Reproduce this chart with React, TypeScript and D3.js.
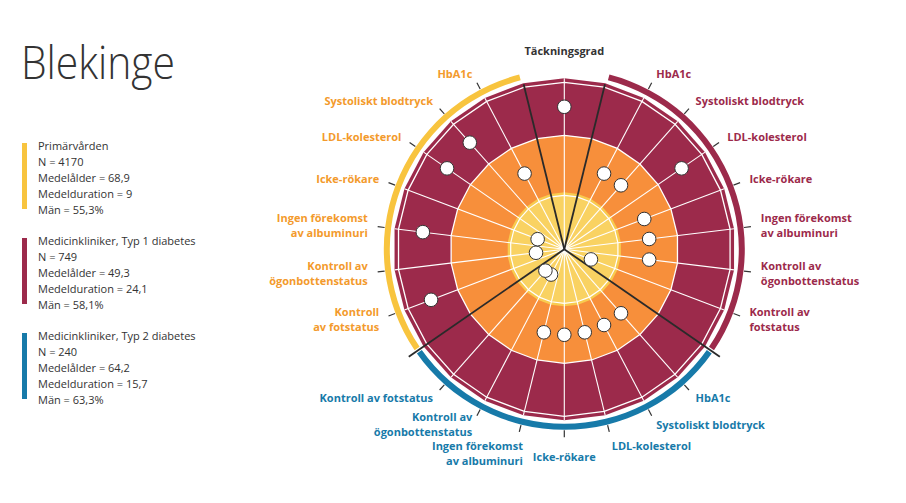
import * as d3 from "d3";

const W = 906;
const H = 503;
const CX = 564.3;
const CY = 249.3;

// ring levels: 1 = inner (yellow), 2 = middle (orange), 3 = outer (red)
const LEVELS = [1, 2, 3];
const LEVEL_COLORS = ["#f8cb4f", "#f78f3b", "#9c2a4b"];

const COVERAGE_LABEL = "Täckningsgrad";
const COVERAGE_LEVEL = 3;

const INDICATORS = [
  "HbA1c",
  "Systoliskt blodtryck",
  "LDL-kolesterol",
  "Icke-rökare",
  "Ingen förekomst av albuminuri",
  "Kontroll av ögonbottenstatus",
  "Kontroll av fotstatus",
];

const PRIMARY_LABELS = [
  ["HbA1c"],
  ["Systoliskt blodtryck"],
  ["LDL-kolesterol"],
  ["Icke-rökare"],
  ["Ingen förekomst", "av albuminuri"],
  ["Kontroll av", "ögonbottenstatus"],
  ["Kontroll", "av fotstatus"],
];
const TYPE1_LABELS = [
  ["HbA1c"],
  ["Systoliskt blodtryck"],
  ["LDL-kolesterol"],
  ["Icke-rökare"],
  ["Ingen förekomst", "av albuminuri"],
  ["Kontroll av", "ögonbottenstatus"],
  ["Kontroll av", "fotstatus"],
];
const TYPE2_LABELS = [
  ["HbA1c"],
  ["Systoliskt blodtryck"],
  ["LDL-kolesterol"],
  ["Icke-rökare"],
  ["Ingen förekomst", "av albuminuri"],
  ["Kontroll av", "ögonbottenstatus"],
  ["Kontroll av fotstatus"],
];

const PRIMARY_LEVELS = [2, 3, 3, 1, 3, 1, 3];
const TYPE1_LEVELS = [2, 2, 3, 2, 2, 2, 1];
const TYPE2_LEVELS = [2, 2, 2, 2, 2, 1, 1];

const PRIMARY_INFO = ["Primärvården", "N = 4170", "Medelålder = 68,9", "Medelduration = 9", "Män = 55,3%"];
const TYPE1_INFO = ["Medicinkliniker, Typ 1 diabetes", "N = 749", "Medelålder = 49,3", "Medelduration = 24,1", "Män = 58,1%"];
const TYPE2_INFO = ["Medicinkliniker, Typ 2 diabetes", "N = 240", "Medelålder = 64,2", "Medelduration = 15,7", "Män = 63,3%"];

const YELLOW = "#f8c43e";
const YELLOW_TEXT = "#f39a2c";
const RED = "#9c2a4b";
const BLUE = "#177aa9";
const DARK = "#333333";
const FONT = "'Open Sans', 'Noto Sans', sans-serif";

type Spoke =
  | { kind: "coverage"; level: number }
  | { kind: "sep" }
  | { kind: "ind"; group: number; level: number; lines: string[]; name: string };

// clockwise from the top: coverage, Typ 1, Typ 2, Primärvården (mirrored)
const spokes: Spoke[] = [];
spokes.push({ kind: "coverage", level: COVERAGE_LEVEL });
spokes.push({ kind: "sep" });
INDICATORS.forEach((n, i) =>
  spokes.push({ kind: "ind", group: 1, level: TYPE1_LEVELS[i], lines: TYPE1_LABELS[i], name: n })
);
spokes.push({ kind: "sep" });
INDICATORS.forEach((n, i) =>
  spokes.push({ kind: "ind", group: 2, level: TYPE2_LEVELS[i], lines: TYPE2_LABELS[i], name: n })
);
spokes.push({ kind: "sep" });
INDICATORS.map((n, i) => i)
  .reverse()
  .forEach((i) =>
    spokes.push({ kind: "ind", group: 0, level: PRIMARY_LEVELS[i], lines: PRIMARY_LABELS[i], name: INDICATORS[i] })
  );
spokes.push({ kind: "sep" });

const GROUP_COLORS = [YELLOW, RED, BLUE];
const GROUP_TEXT = [YELLOW_TEXT, RED, BLUE];

export default function App() {
  const n = spokes.length;
  const angle = d3.scaleLinear().domain([0, n]).range([0, 2 * Math.PI]);
  const band = d3.scaleBand<number>().domain(LEVELS).range([0, 171]);
  const bw = band.bandwidth();
  const outerR = band(3)! + bw;

  const idx = d3.range(n);
  const poly = (r: number) =>
    d3
      .lineRadial<number>()
      .angle((i) => angle(i))
      .radius(r)
      .curve(d3.curveLinearClosed)(idx) as string;

  const pt = (a: number, r: number): [number, number] => [Math.sin(a) * r, -Math.cos(a) * r];

  const sepIdx = idx.filter((i) => spokes[i].kind === "sep");
  const groupArcs = [
    { g: 1, a0: angle(sepIdx[0]), a1: angle(sepIdx[1]) },
    { g: 2, a0: angle(sepIdx[1]), a1: angle(sepIdx[2]) },
    { g: 0, a0: angle(sepIdx[2]), a1: angle(sepIdx[3]) },
  ];
  const arcGen = d3.arc<{ a0: number; a1: number }>()
    .innerRadius(174.5)
    .outerRadius(180.5)
    .startAngle((d) => d.a0 + 0.011)
    .endAngle((d) => d.a1 - 0.011);

  const labelR = 198;
  const lineH = 15;

  const legends = [
    { color: YELLOW, lines: PRIMARY_INFO },
    { color: RED, lines: TYPE1_INFO },
    { color: BLUE, lines: TYPE2_INFO },
  ];

  return (
    <svg
      width={W}
      height={H}
      style={{ position: "absolute", left: 0, top: 0, background: "#fff" }}
      fontFamily={FONT}
    >
      <text x={21} y={79} fontSize={46} fontWeight={300} fill={DARK} textLength={154} lengthAdjust="spacingAndGlyphs">
        Blekinge
      </text>

      {legends.map((lg, k) => {
        const top = 143 + k * 95;
        return (
          <g key={k}>
            <rect x={22} y={top} width={5} height={66} fill={lg.color} />
            {lg.lines.map((t, j) => (
              <text key={j} x={38} y={top + 7 + j * 16} fontSize={11} fill={DARK}>
                {t}
              </text>
            ))}
          </g>
        );
      })}

      <g transform={`translate(${CX},${CY})`}>
        {/* rings, outer first */}
        {[...LEVELS].reverse().map((l) => (
          <path key={l} d={poly(band(l)! + bw)} fill={LEVEL_COLORS[l - 1]} />
        ))}
        <path d={poly(band(1)! + bw - 3)} fill="#f9d262" />
        {/* white grid lines */}
        <path d={poly(outerR - 4)} fill="none" stroke="#fff" strokeWidth={1.3} />
        <path d={poly(band(3)!)} fill="none" stroke="#fff" strokeWidth={1.3} />
        <path d={poly(band(1)! + bw - 3)} fill="none" stroke="#fff" strokeWidth={1.2} />

        {idx
          .filter((i) => spokes[i].kind !== "sep")
          .map((i) => {
            const [x, y] = pt(angle(i), outerR);
            return <line key={i} x1={0} y1={0} x2={x} y2={y} stroke="#fff" strokeWidth={1.1} />;
          })}

        {sepIdx.map((i) => {
          const a = angle(i);
          const r = Math.cos(a) > 0 ? outerR - 1 : 189;
          const [x, y] = pt(a, r);
          return <line key={i} x1={0} y1={0} x2={x} y2={y} stroke="#2a2a2a" strokeWidth={1.8} />;
        })}

        {groupArcs.map((d) => (
          <path key={d.g} d={arcGen(d) as string} fill={GROUP_COLORS[d.g]} />
        ))}

        {/* ticks and labels */}
        {idx.map((i) => {
          const s = spokes[i];
          const a = angle(i);
          if (s.kind === "sep") return null;
          if (s.kind === "coverage") {
            const [x, y] = pt(a, labelR);
            return (
              <text key={i} x={x} y={y + 4} textAnchor="middle" fontSize={11} fontWeight={700} fill={DARK}>
                {COVERAGE_LABEL}
              </text>
            );
          }
          const [t1x, t1y] = pt(a, 181);
          const [t2x, t2y] = pt(a, 188);
          const [lx, ly] = pt(a, labelR);
          const sn = Math.sin(a);
          const anchor = sn > 0.15 ? "start" : sn < -0.15 ? "end" : "middle";
          const blockH = (s.lines.length - 1) * lineH;
          let cy = ly - blockH / 2;
          if (Math.abs(sn) < 0.3 && Math.cos(a) < 0) {
            cy += blockH / 2 + (anchor === "middle" ? 10 : 4);
          }
          const dx = anchor === "end" && Math.abs(sn) < 0.3 ? 6 : 0;
          return (
            <g key={i}>
              <line x1={t1x} y1={t1y} x2={t2x} y2={t2y} stroke={DARK} strokeWidth={1.2} />
              {s.lines.map((t, j) => (
                <text
                  key={j}
                  x={lx + dx}
                  y={cy + j * lineH + 4}
                  textAnchor={anchor}
                  fontSize={11}
                  fontWeight={700}
                  fill={GROUP_TEXT[s.group]}
                >
                  {t}
                </text>
              ))}
            </g>
          );
        })}

        {/* dots */}
        {idx.map((i) => {
          const s = spokes[i];
          if (s.kind === "sep") return null;
          const [x, y] = pt(angle(i), band(s.level)! + bw / 2);
          return <circle key={i} cx={x} cy={y} r={6.8} fill="#fff" stroke={DARK} strokeWidth={1} />;
        })}
      </g>
    </svg>
  );
}
